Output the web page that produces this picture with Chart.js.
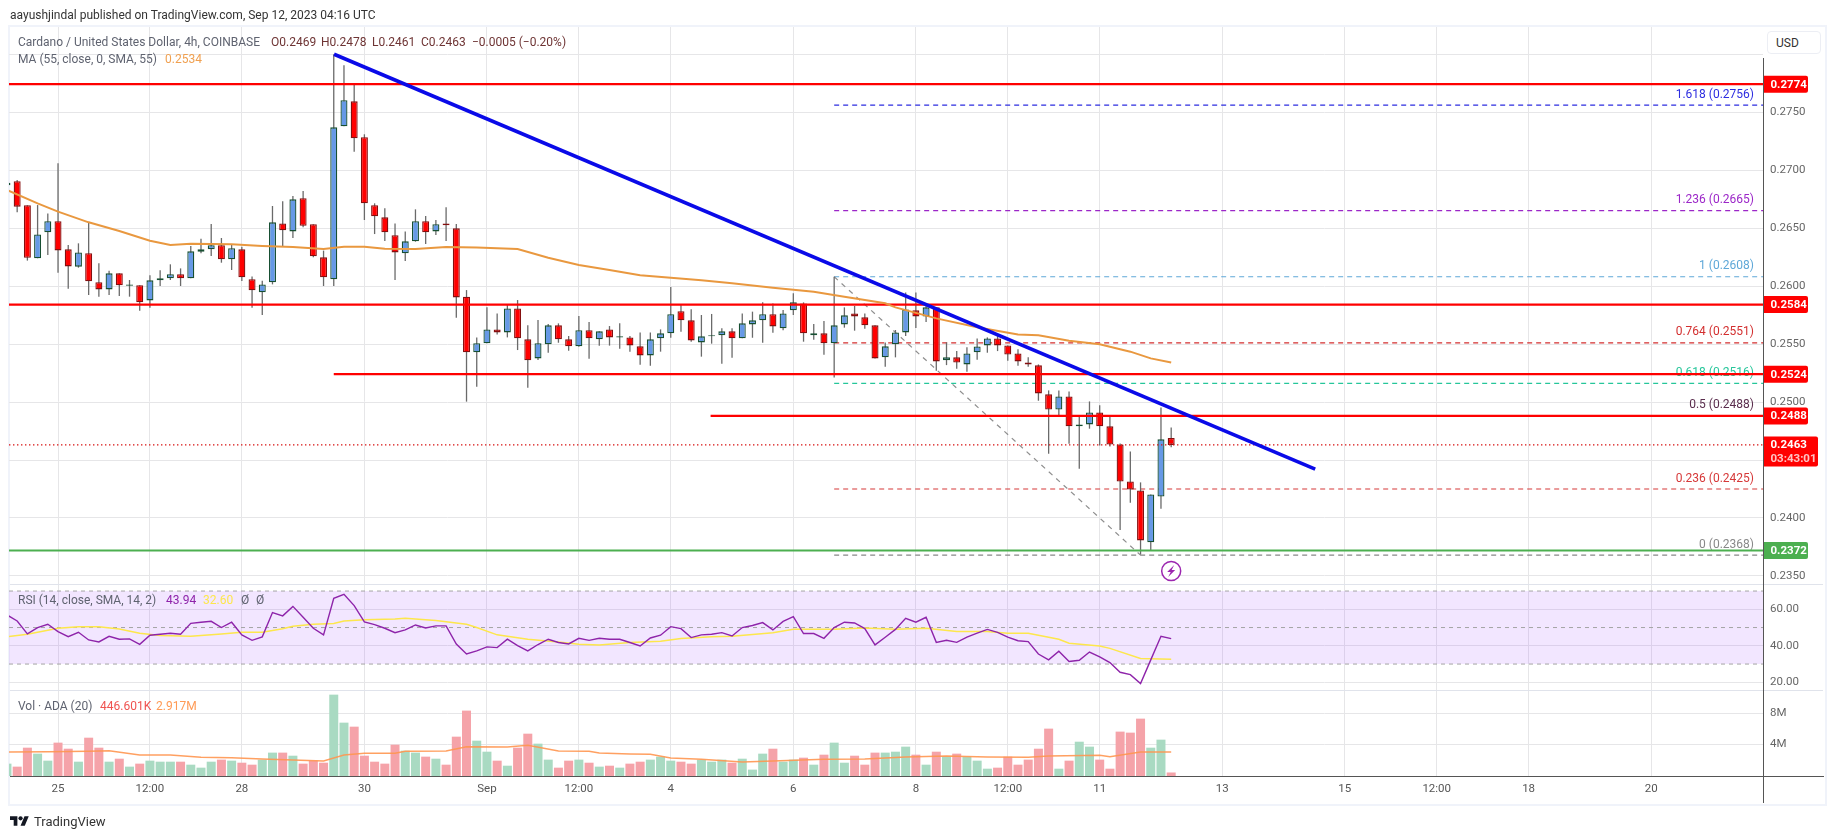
<!DOCTYPE html>
<html><head><meta charset="utf-8">
<script src="https://cdn.jsdelivr.net/npm/chart.js@4"></script>
<style>
html,body{margin:0;padding:0;background:#fff;width:1835px;height:839px;overflow:hidden;font-family:Roboto,sans-serif}
#wrap{position:relative;width:1835px;height:839px}
canvas{position:absolute;left:0;top:0}
.t{position:absolute;white-space:pre;font-size:12px;line-height:14px;color:#5f6370}
.b{position:absolute}
</style></head><body>
<div id="wrap">
<div class="b" style="left:8px;top:25px;width:1815px;height:777px;border:2px solid #f0f3fa"></div>
<canvas id="c" width="1835" height="839"></canvas>
<div class="b" style="left:10px;top:584px;width:1813px;height:1px;background:#e0e3eb"></div>
<div class="b" style="left:10px;top:690px;width:1813px;height:1px;background:#e0e3eb"></div>
<div class="b" style="left:10px;top:776px;width:1814px;height:1px;background:#555"></div>
<div class="b" style="left:1763px;top:58px;width:1px;height:745px;background:#555"></div>
<div class="b" style="left:1767px;top:31px;width:52px;height:21px;border:1px solid #eceef4;border-radius:4px;background:#fff"></div>
<div class="t" style="left:1776px;top:36px;color:#333">USD</div>
<div class="t" style="left:10px;top:8px;color:#333">aayushjindal published on TradingView.com, Sep 12, 2023 04:16 UTC</div>
<div class="t" style="left:18px;top:35px">Cardano / United States Dollar, 4h, COINBASE</div>
<div class="t" style="left:271px;top:35px;color:#6e3434">O0.2469</div>
<div class="t" style="left:321px;top:35px;color:#6e3434">H0.2478</div>
<div class="t" style="left:372px;top:35px;color:#6e3434">L0.2461</div>
<div class="t" style="left:421px;top:35px;color:#6e3434">C0.2463</div>
<div class="t" style="left:472px;top:35px;color:#6e3434">−0.0005 (−0.20%)</div>
<div class="t" style="left:18px;top:52px">MA (55, close, 0, SMA, 55)</div>
<div class="t" style="left:165px;top:52px;color:#f0a050">0.2534</div>
<div class="t" style="left:18px;top:593px">RSI (14, close, SMA, 14, 2)</div>
<div class="t" style="left:166px;top:593px;color:#8e24aa">43.94</div>
<div class="t" style="left:203px;top:593px;color:#fde74c">32.60</div>
<div class="t" style="left:241px;top:593px">Ø</div>
<div class="t" style="left:256px;top:593px">Ø</div>
<div class="t" style="left:18px;top:699px">Vol · ADA (20)</div>
<div class="t" style="left:100px;top:699px;color:#ef5350">446.601K</div>
<div class="t" style="left:156px;top:699px;color:#ff9a55">2.917M</div>
<svg class="b" style="left:10px;top:816px" width="19" height="10" viewBox="0 4 36 18"><path d="M14 22H7V11H0V4h14v18zM28 22h-8l7.5-18h8L28 22z" fill="#131722"/><circle cx="20" cy="8" r="4" fill="#131722"/></svg>
<div class="t" style="left:34px;top:814px;font-size:13px;line-height:15px;color:#333">TradingView</div>
</div>
<script>
// ---- data ----
const firstBar = -5;
const xMin = -4.8, xMax = 166.95;
const tickIdx = [0,9,18,30,42,51,60,72,84,93,102,114,126,135,144,156];
const tickLabels = ['25','12:00','28','30','Sep','12:00','4','6','8','12:00','11','13','15','12:00','18','20'];
const priceTicks = [0.235,0.24,0.245,0.25,0.255,0.26,0.265,0.27,0.275,0.28];
const priceHiddenTicks = [0.245,0.28];
const rsiTicks = [20,40,60];
const volTicks = [4,8];

const candleOpen = [.26868,.26903,.26696,.26239,.26463,.26558,.26316,.26167,.26282,.26032,.25971,.26109,.26003,.26006,.25876,.26049,.26066,.26101,.26066,.26296,.26316,.26351,.2623,.26316,.26058,.25946,.26032,.2654,.26471,.26756,.26532,.26247,.26058,.27377,.27592,.27282,.26696,.26592,.26437,.26282,.26385,.26558,.26471,.2654,.26497,.25908,.25428,.25506,.25626,.256,.25807,.2554,.25376,.25497,.25661,.2554,.2548,.25618,.2554,.25626,.25557,.25557,.2548,.25402,.25549,.25592,.25782,.25704,.25514,.25566,.25575,.25609,.25549,.25669,.25704,.25756,.25635,.2579,.2585,.25575,.25592,.25506,.25669,.25764,.2573,.25661,.25385,.25497,.256,.2579,.25738,.25816,.25359,.25385,.25324,.25428,.25488,.25548,.25488,.25419,.25341,.25316,.25066,.24936,.25048,.2479,.24807,.2491,.2479,.24634,.24315,.24238,.2379,.24186,.2469];
const candleHigh = [.269,.26914,.26696,.26698,.26626,.27058,.26354,.26368,.26555,.26196,.26132,.26109,.26052,.26006,.26092,.26135,.26187,.26152,.26345,.26408,.26535,.26414,.26354,.26339,.26081,.26046,.2669,.2673,.26776,.26819,.26532,.26305,.27998,.27903,.27747,.27308,.26713,.2667,.2654,.26469,.26661,.26604,.26569,.26678,.26535,.25965,.25557,.25816,.25764,.25842,.25879,.25661,.25707,.25672,.25678,.25569,.25741,.2569,.25609,.25655,.25678,.25569,.256,.256,.25626,.25991,.25842,.25799,.2575,.25759,.25635,.25635,.25764,.25779,.25859,.2585,.25793,.25937,.25859,.25672,.25698,.2608,.25816,.25828,.25764,.25661,.25514,.25621,.25945,.25945,.2585,.25816,.25514,.25439,.25471,.25548,.25557,.25577,.25488,.25454,.25385,.25324,.251,.251,.25091,.24884,.25005,.24971,.24873,.24643,.24574,.24307,.24203,.24953,.2478];
const candleLow = [.268,.26635,.26219,.26239,.26267,.26115,.25977,.26158,.25923,.25908,.25923,.25914,.25908,.25787,.25813,.26,.26052,.26,.26066,.26282,.26259,.26201,.26138,.26043,.25813,.2575,.26014,.26345,.26414,.26506,.26247,.26,.26,.27377,.27158,.26569,.26448,.26388,.26052,.26216,.26382,.26362,.2644,.26388,.25727,.25003,.25132,.25506,.25583,.25557,.25448,.25123,.25362,.25425,.25511,.25442,.25477,.25373,.25486,.25486,.2546,.25434,.25322,.25313,.25434,.25554,.25606,.2552,.25391,.25503,.2533,.25382,.25549,.25554,.25511,.25598,.25618,.2575,.2552,.25537,.25408,.25212,.25641,.25615,.25632,.25376,.25304,.25385,.25569,.25637,.25689,.2527,.25318,.25287,.25261,.25364,.25425,.25439,.25356,.25313,.25304,.25011,.24554,.24882,.2464,.24425,.2477,.24626,.24617,.23896,.24131,.23686,.2372,.2408,.2461];
const candleClose = [.26891,.26684,.26244,.26445,.26558,.26307,.26169,.2629,.2604,.25971,.26109,.26006,.26014,.25859,.26049,.26066,.26101,.26066,.26299,.26316,.26351,.2623,.26325,.26075,.25963,.26014,.26549,.2648,.26747,.2652,.26256,.26075,.27368,.27601,.27273,.26713,.26601,.26463,.2629,.26385,.26558,.26463,.26532,.26523,.25902,.25428,.25506,.25626,.256,.25807,.25549,.25359,.25506,.25661,.2554,.2548,.25618,.25549,.25609,.25557,.25566,.25488,.25402,.2554,.25592,.25756,.25704,.25531,.25566,.25575,.25609,.25549,.25678,.25704,.25756,.25652,.25764,.25859,.25592,.25592,.25506,.25661,.25747,.25738,.25661,.25376,.2548,.256,.25798,.25738,.25816,.2535,.25385,.25341,.25419,.25479,.25548,.25488,.2541,.2535,.25324,.25074,.24936,.25048,.2479,.24807,.2491,.2479,.24634,.24315,.24246,.23807,.24203,.24678,.2463];
const volume = [1.57,1.19,3.6,2.84,1.95,4.24,3.47,1.82,4.87,3.6,1.82,2.2,1.19,1.57,1.95,1.82,1.82,1.82,1.44,1.06,1.82,2.08,1.95,1.69,1.44,2.08,2.97,2.97,2.58,1.57,1.95,1.69,10.34,6.78,6.27,2.58,1.82,1.57,3.98,3.22,2.97,2.46,2.2,1.44,5.0,8.31,4.49,3.09,1.95,1.31,3.6,5.38,4.11,2.08,1.06,1.95,2.08,1.69,1.19,1.31,1.06,1.57,1.82,2.08,2.46,1.95,1.82,1.57,2.08,1.82,2.08,1.69,2.2,.81,2.84,3.47,1.82,2.08,2.33,1.44,2.71,4.24,1.69,2.58,1.44,2.97,2.97,3.09,3.73,2.71,1.44,3.09,2.46,2.84,2.46,1.95,.93,1.06,2.46,1.44,2.08,3.47,6.02,.93,1.95,4.36,3.73,2.08,.93,5.64,5.51,7.29,3.6,4.62,.447];
const rsi = [56.9,53.6,46.5,50.0,51.8,47.8,45.0,47.4,43.2,42.1,45.2,43.6,43.8,40.8,45.8,46.3,46.9,46.3,52.3,52.9,53.4,50.0,52.9,46.0,43.0,44.9,58.2,56.4,61.6,55.6,49.6,46.0,66.0,68.2,62.0,53.1,51.6,49.6,47.2,48.7,51.4,49.8,50.9,50.9,41.0,35.5,37.2,39.4,39.0,43.6,40.1,37.2,40.7,43.6,41.8,41.0,44.1,43.0,44.1,43.6,43.6,41.8,39.9,44.3,45.8,50.5,49.4,44.5,46.0,46.3,47.2,45.4,50.0,51.1,52.7,48.7,53.4,56.0,46.7,46.7,44.1,50.0,52.9,52.5,49.4,40.5,44.7,49.0,55.1,52.9,55.6,41.9,43.0,41.9,44.7,46.9,49.0,47.4,44.7,42.8,42.3,35.5,32.3,37.0,31.4,32.1,36.6,33.9,30.8,25.5,24.2,19.3,32.3,45.2,43.94];

const maIdx = [-5,-2,0,3,6,9,11,13,17,20,23,26,28,30,32,35,38,41,45,48,51,54,57,60,63,66,70,74,77,81,82,86,90,94,96,99,102,105,107,109];
const maVal = [.26828,.26713,.26641,.26549,.26474,.26391,.26354,.26365,.26359,.26345,.26336,.26319,.26339,.26339,.26322,.26319,.26336,.26331,.26319,.26244,.26181,.26138,.26092,.26072,.26049,.26023,.25986,.25951,.25908,.25851,.25816,.25721,.25644,.25583,.25575,.25529,.25497,.25434,.25376,.2534];
const rsiMaIdx = [-5,-3,0,2,4,6,8,10,13,16,18,20,22,23,25,27,28,30,33,34,37,40,41,43,46,49,51,53,56,59,61,64,66,70,72,76,79,82,85,88,91,93,95,98,99,102,103,106,109];
const rsiMaVal = [45.0,46.3,49.6,50.5,50.5,49.2,46.9,45.6,45.2,46.5,47.4,47.4,49.4,50.7,51.8,52.2,53.6,54.3,54.7,55.1,53.8,51.8,50.0,46.0,43.6,42.1,40.8,40.5,41.8,42.5,44.0,44.9,45.2,47.2,49.0,49.0,49.8,49.0,49.6,47.9,47.8,46.9,46.9,43.6,41.4,39.9,38.6,33.0,32.6];
const volMaIdx = [-5,-1,3,5,8,11,14,17,20,23,26,28,30,33,34,38,40,44,46,49,52,53,56,58,60,63,67,70,75,79,83,87,91,95,97,102,103,106,109];
const volMaVal = [3.05,3.09,3.14,3.22,2.67,2.67,2.37,2.33,2.16,2.03,1.91,2.67,2.88,2.88,3.14,3.18,3.73,3.69,3.9,3.18,3.14,2.92,2.8,2.75,2.29,2.12,1.78,1.91,2.12,2.16,2.42,2.54,2.42,2.37,2.54,2.63,2.46,3.05,3.05];

const trendIdx = [27.03,123.1];
const trendVal = [.27998,.24422];
const levelVal = [.2774,.2584,.2524,.2488,.2372];
const levelStart = [xMin,xMin,27,63.9,xMin];
const levelColor = ['#ff0000','#ff0000','#ff0000','#ff0000','#4caf50'];
const fibStart = 76, fibEnd = 106;
const fibRatio = ['1.618','1.236','1','0.764','0.618','0.5','0.236','0'];
const fibVal = [.2756,.2665,.2608,.2551,.2516,.2488,.2425,.2368];
const fibColor = ['#2d2de0','#9c27c8','#5fa8d8','#d32f2f','#26c69a','#5a2d4d','#d63838','#888888'];
const lastPrice = .2463;
const rsiBands = [70,50,30];
const boltVal = .23543;

// ---- chart ----
const FONT = 'Roboto, sans-serif';
const idx = candleOpen.map((_, k) => firstBar + k);
const up = candleOpen.map((o, k) => candleClose[k] >= o);
const pairs = (xs, ys) => xs.map((x, k) => ({x, y: ys[k]}));
const hLine = (a, b, v) => [{x: a, y: v}, {x: b, y: v}];
const fmt4 = v => v.toFixed(4);

const datasets = [];
datasets.push({type:'line',label:'Trend',data:pairs(trendIdx,trendVal),yAxisID:'y',borderColor:'#0a0ae8',borderWidth:3.6,pointRadius:0,order:1});
levelVal.forEach((v,k)=>datasets.push({type:'line',label:'L'+v,data:hLine(levelStart[k],xMax,v),yAxisID:'y',borderColor:levelColor[k],borderWidth:2.2,pointRadius:0,order:3}));
datasets.push({type:'line',label:'Last',data:hLine(xMin,xMax,lastPrice),yAxisID:'y',borderColor:'#d81010',borderWidth:1.4,borderDash:[1.4,2.6],pointRadius:0,order:4});
fibVal.forEach((v,k)=>datasets.push({type:'line',label:'F'+fibRatio[k],data:hLine(fibStart,xMax,v),yAxisID:'y',borderColor:fibColor[k],borderWidth:1.2,borderDash:[5,4],pointRadius:0,order:9}));
datasets.push({type:'line',label:'FibDiag',data:[{x:fibStart,y:fibVal[2]},{x:fibEnd,y:fibVal[7]}],yAxisID:'y',borderColor:'#8e8e8e',borderWidth:1.2,borderDash:[5,5],pointRadius:0,order:8});
datasets.push({type:'line',label:'MA',data:pairs(maIdx,maVal),yAxisID:'y',borderColor:'#e9983f',borderWidth:2,pointRadius:0,order:2});
datasets.push({type:'bar',label:'Body',data:idx.map((x,k)=>({x,y:[candleOpen[k],candleClose[k]]})),yAxisID:'y',grouped:false,barThickness:7,backgroundColor:up.map(u=>u?'#6699e6':'#ff0000'),borderColor:up.map(u=>u?'#174f32':'#850f0f'),borderWidth:1.3,borderSkipped:false,inflateAmount:0,order:6});
datasets.push({type:'bar',label:'Wick',data:idx.map((x,k)=>({x,y:[candleLow[k],candleHigh[k]]})),yAxisID:'y',grouped:false,barThickness:1.3,backgroundColor:'#6a6a6a',borderWidth:0,inflateAmount:0,order:7});
// RSI
datasets.push({type:'line',label:'RSI',data:pairs(idx,rsi),yAxisID:'yR',borderColor:'#8e24aa',borderWidth:1.4,pointRadius:0,order:1});
datasets.push({type:'line',label:'RSIMA',data:pairs(rsiMaIdx,rsiMaVal),yAxisID:'yR',borderColor:'#fde74c',borderWidth:1.5,pointRadius:0,order:2});
rsiBands.forEach(v=>datasets.push({type:'line',label:'B'+v,data:hLine(xMin,xMax,v),yAxisID:'yR',borderColor:'#a5a5a5',borderWidth:1,borderDash:[4,4],pointRadius:0,order:3}));
datasets.push({type:'line',label:'Band',data:hLine(xMin,xMax,rsiBands[0]),yAxisID:'yR',borderWidth:0,pointRadius:0,backgroundColor:'rgba(155,60,255,0.13)',fill:{value:rsiBands[2]},order:5});
// Volume
datasets.push({type:'line',label:'VolMA',data:pairs(volMaIdx,volMaVal),yAxisID:'yV',borderColor:'rgba(255,150,80,0.9)',borderWidth:1.5,pointRadius:0,order:1});
datasets.push({type:'bar',label:'Vol',data:idx.map((x,k)=>({x,y:volume[k]})),yAxisID:'yV',grouped:false,barThickness:9,backgroundColor:up.map(u=>u?'#a9dac2':'#f5a3a9'),borderWidth:0,inflateAmount:0,order:4});

const fixWidth = s => { s.width = 61; };
const axisCommon = {position:'right',stack:'panes',border:{display:false},afterFit:fixWidth,
  grid:{color:'#e6e6e8',drawTicks:false}};
const tickFont = {family:FONT,size:11.5};

const overlay = {
  id:'overlay',
  beforeDatasetsDraw(chart){
    const g = chart.ctx, y = chart.scales.y, xs = chart.scales.x;
    g.save();
    g.font = '12px '+FONT; g.textAlign='right'; g.textBaseline='middle';
    fibVal.forEach((v,k)=>{
      g.fillStyle = fibColor[k];
      g.fillText(fibRatio[k]+' ('+fmt4(v)+')', xs.right-9, y.getPixelForValue(v)-10.5);
    });
    g.restore();
  },
  afterDraw(chart){
    const g = chart.ctx, y = chart.scales.y, xs = chart.scales.x;
    const ax = xs.right;
    g.save();
    g.textBaseline='middle'; g.textAlign='left';
    const tag = (v,w,color) => {
      const py = y.getPixelForValue(v);
      g.fillStyle=color; g.beginPath(); g.roundRect(ax,py-8.5,w,17,[0,2,2,0]); g.fill();
      g.fillStyle='#fff'; g.font='bold 11.5px '+FONT; g.fillText(fmt4(v),ax+7.5,py+0.5);
    };
    levelVal.forEach((v,k)=>tag(v,45,levelColor[k]));
    const py = y.getPixelForValue(lastPrice);
    g.fillStyle='#ff0000'; g.beginPath(); g.roundRect(ax,py-8.5,55,30,[0,2,2,0]); g.fill();
    g.fillStyle='#fff'; g.font='bold 11.5px '+FONT; g.fillText(fmt4(lastPrice),ax+7.5,py+0.5);
    g.fillStyle='#ffc4c4'; g.font='bold 11.5px '+FONT; g.fillText('03:43:01',ax+7.5,py+14);
    // bolt marker under the last bar
    const bx = xs.getPixelForValue(idx[idx.length-1]), by = y.getPixelForValue(boltVal);
    g.strokeStyle='#9c27b0'; g.fillStyle='#fff'; g.lineWidth=1.5;
    g.beginPath(); g.arc(bx,by,9.5,0,Math.PI*2); g.fill(); g.stroke();
    g.fillStyle='#9c27b0'; g.beginPath();
    g.moveTo(bx+3,by-6); g.lineTo(bx-4,by+1); g.lineTo(bx-0.5,by+1); g.lineTo(bx-3,by+6);
    g.lineTo(bx+4,by-1); g.lineTo(bx+0.5,by-1); g.closePath(); g.fill();
    g.restore();
  }
};

new Chart(document.getElementById('c'),{
  data:{datasets},
  plugins:[overlay],
  options:{
    responsive:false,animation:false,devicePixelRatio:1,
    layout:{padding:{left:9,top:27,right:11,bottom:36}},
    plugins:{legend:{display:false},title:{display:false},tooltip:{enabled:false}},
    scales:{
      x:{type:'linear',offset:false,min:xMin,max:xMax,position:'bottom',border:{display:false},
        afterBuildTicks:s=>{s.ticks=tickIdx.map(value=>({value}));},
        afterFit:s=>{s.height=27;},
        grid:{offset:false,color:'#e6e6e8',drawTicks:false},
        ticks:{autoSkip:false,maxRotation:0,padding:6,color:'#555',font:tickFont,
          callback:v=>{const k=tickIdx.indexOf(v);return k<0?'':tickLabels[k];}}},
      y:{...axisCommon,weight:1,stackWeight:557,min:.23431,max:.28233,
        afterBuildTicks:s=>{s.ticks=priceTicks.map(value=>({value}));},
        ticks:{autoSkip:false,padding:7,color:'#666',font:tickFont,
          callback:v=>priceHiddenTicks.some(h=>Math.abs(h-v)<1e-9)?'':fmt4(v)}},
      yR:{...axisCommon,weight:2,stackWeight:106,min:15.78,max:73.86,
        afterBuildTicks:s=>{s.ticks=rsiTicks.map(value=>({value}));},
        ticks:{autoSkip:false,padding:7,color:'#666',font:tickFont,callback:v=>v.toFixed(2)}},
      yV:{...axisCommon,weight:3,stackWeight:86,min:0,max:10.93,
        afterBuildTicks:s=>{s.ticks=volTicks.map(value=>({value}));},
        ticks:{autoSkip:false,padding:7,color:'#666',font:tickFont,callback:v=>v+'M'}}
    }
  }
});
</script>
</body></html>
